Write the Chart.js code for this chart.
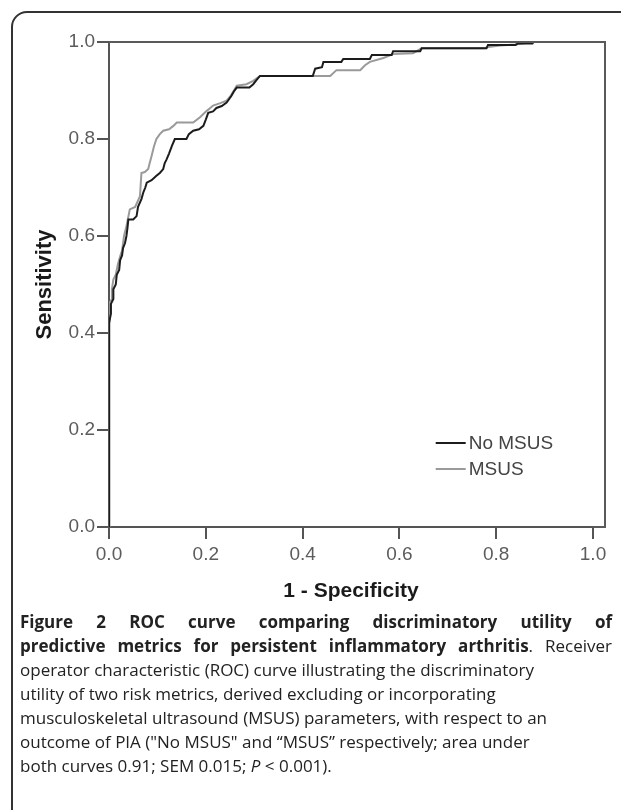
<!DOCTYPE html>
<html>
<head>
<meta charset="utf-8">
<script src="https://cdn.jsdelivr.net/npm/chart.js@4.4.1/dist/chart.umd.min.js"></script>
<style>
  html, body { margin: 0; padding: 0; background: #fff; overflow: hidden; }
  body { width: 621px; height: 810px; position: relative; }
  #frame {
    position: absolute; left: 11px; top: 11px; width: 700px; height: 900px;
    border: 2px solid #333; border-radius: 16px; box-sizing: border-box;
  }
  #chartWrap { position: absolute; left: 0; top: 0; width: 621px; height: 612px; }
  #caption {
    position: absolute; left: 20px; top: 610px; width: 592px;
    font-family: "Open Sans", sans-serif;
    font-size: 17px; line-height: 24px; color: #222;
  }
  #caption .j { text-align: justify; text-align-last: justify; }
  #caption b { font-weight: bold; }
</style>
</head>
<body>
<div id="frame"></div>
<div id="chartWrap"><canvas id="rocChart"></canvas></div>
<div id="caption">
  <div class="j"><b>Figure 2 ROC curve comparing discriminatory utility of</b></div>
  <div class="j"><b>predictive metrics for persistent inflammatory arthritis</b>. Receiver</div>
  <div>operator characteristic (ROC) curve illustrating the discriminatory</div>
  <div>utility of two risk metrics, derived excluding or incorporating</div>
  <div>musculoskeletal ultrasound (MSUS) parameters, with respect to an</div>
  <div>outcome of PIA ("No MSUS" and “MSUS” respectively; area under</div>
  <div>both curves 0.91; SEM 0.015; <i>P</i> &lt; 0.001).</div>
</div>
<script>
var xTicks = [0, 0.2, 0.4, 0.6, 0.8, 1.0];
var yTicks = [0, 0.2, 0.4, 0.6, 0.8, 1.0];

var seriesNames = ['No MSUS', 'MSUS'];

// No MSUS (black)
var noMsusFpr = [0, 0, 0.004, 0.004, 0.009, 0.009, 0.014, 0.016, 0.021, 0.023, 0.027, 0.029, 0.033, 0.036, 0.038, 0.040,
    0.050, 0.057, 0.060, 0.067, 0.071, 0.075, 0.078, 0.088, 0.098, 0.105, 0.112, 0.115, 0.119, 0.124, 0.130, 0.136,
    0.160, 0.165, 0.174, 0.186, 0.195, 0.200, 0.205, 0.215, 0.222, 0.233, 0.243, 0.248, 0.253, 0.258, 0.264, 0.290,
    0.298, 0.305, 0.312, 0.421, 0.426, 0.440, 0.443, 0.480, 0.484, 0.539, 0.543, 0.584, 0.587, 0.643, 0.646, 0.780,
    0.783, 0.840, 0.845, 0.875, 0.877, 1.0];
var noMsusTpr = [0, 0.42, 0.44, 0.46, 0.47, 0.49, 0.50, 0.52, 0.53, 0.55, 0.56, 0.575, 0.585, 0.60, 0.615, 0.634,
    0.634, 0.641, 0.66, 0.676, 0.69, 0.70, 0.71, 0.715, 0.724, 0.73, 0.738, 0.75, 0.758, 0.77, 0.786, 0.80,
    0.80, 0.81, 0.817, 0.82, 0.827, 0.84, 0.854, 0.857, 0.864, 0.868, 0.875, 0.882, 0.889, 0.898, 0.906, 0.906,
    0.913, 0.922, 0.93, 0.93, 0.945, 0.948, 0.959, 0.959, 0.965, 0.965, 0.973, 0.973, 0.981, 0.981, 0.987, 0.987,
    0.994, 0.994, 0.997, 0.997, 1.0, 1.0];

// MSUS (grey)
var msusFpr = [0, 0, 0.002, 0.006, 0.006, 0.009, 0.014, 0.018, 0.023, 0.027, 0.031, 0.036, 0.040, 0.043, 0.054, 0.064,
    0.067, 0.074, 0.081, 0.084, 0.088, 0.093, 0.098, 0.105, 0.112, 0.124, 0.133, 0.140, 0.174, 0.188, 0.202, 0.208,
    0.215, 0.230, 0.243, 0.252, 0.258, 0.264, 0.284, 0.298, 0.312, 0.457, 0.470, 0.519, 0.529, 0.539, 0.567, 0.587,
    0.628, 0.646, 0.777, 0.780, 0.808, 0.840, 0.877, 1.0];
var msusTpr = [0, 0.44, 0.463, 0.47, 0.49, 0.51, 0.52, 0.54, 0.558, 0.57, 0.60, 0.62, 0.64, 0.655, 0.66, 0.682,
    0.73, 0.732, 0.738, 0.75, 0.765, 0.785, 0.80, 0.81, 0.817, 0.82, 0.827, 0.834, 0.834, 0.845, 0.858, 0.863,
    0.869, 0.874, 0.879, 0.89, 0.90, 0.91, 0.913, 0.92, 0.93, 0.93, 0.942, 0.942, 0.952, 0.959, 0.967, 0.975,
    0.977, 0.987, 0.987, 0.989, 0.993, 0.995, 1.0, 1.0];

var lineColors = ['#1c1c1c', '#9a9a9a'];

function toPoints(xs, ys) {
    var pts = [];
    for (let i = 0; i < xs.length; i++) {
        pts.push({x: xs[i], y: ys[i]});
    }
    return pts;
}

// top and right edges of the box, right edge sits a bit past 1.0
var boxPlugin = {
    id: 'boxPlugin',
    afterDraw: function (chart) {
        var a = chart.chartArea;
        var ctx = chart.ctx;
        ctx.save();
        ctx.strokeStyle = '#5a5a5a';
        ctx.lineWidth = 2;
        ctx.beginPath();
        ctx.moveTo(a.left, a.top);
        ctx.lineTo(a.right + 12, a.top);
        ctx.lineTo(a.right + 12, a.bottom);
        ctx.lineTo(a.right, a.bottom);
        ctx.stroke();
        ctx.restore();
    }
};

var legendPlugin = {
    id: 'legendPlugin',
    afterDraw: function (chart) {
        var ctx = chart.ctx;
        var a = chart.chartArea;
        ctx.save();
        ctx.font = '19px "Liberation Sans", Arial, sans-serif';
        ctx.textBaseline = 'middle';
        chart.data.datasets.forEach(function (ds, i) {
            var y = a.bottom - 84 + i * 26;
            var x = a.left + 0.675 * (a.right - a.left);
            ctx.strokeStyle = ds.borderColor;
            ctx.lineWidth = 2;
            ctx.beginPath();
            ctx.moveTo(x, y);
            ctx.lineTo(x + 30, y);
            ctx.stroke();
            ctx.fillStyle = '#444';
            ctx.fillText(ds.label, x + 33, y + 1);
        });
        ctx.restore();
    }
};

function drawChart() {
    var ctx = document.getElementById('rocChart');
    var myChart = new Chart(ctx, {
        type: 'scatter',
        data: {
            datasets: [{
                label: seriesNames[0],
                data: toPoints(noMsusFpr, noMsusTpr),
                borderColor: lineColors[0],
                borderWidth: 2,
                showLine: true,
                pointRadius: 0,
                tension: 0
            }, {
                label: seriesNames[1],
                data: toPoints(msusFpr, msusTpr),
                borderColor: lineColors[1],
                borderWidth: 2,
                showLine: true,
                pointRadius: 0,
                tension: 0
            }]
        },
        options: {
            responsive: true,
            maintainAspectRatio: false,
            animation: false,
            layout: { padding: { top: 42, right: 28, left: 0, bottom: 0 } },
            plugins: {
                legend: { display: false },
                tooltip: { enabled: false }
            },
            scales: {
                x: {
                    type: 'linear',
                    min: 0,
                    max: 1,
                    afterBuildTicks: function (scale) {
                        scale.ticks = xTicks.map(function (v) { return {value: v}; });
                    },
                    afterFit: function (scale) { scale.height = 85; },
                    ticks: {
                        color: '#5c5c5c',
                        font: { family: '"Liberation Sans", Arial, sans-serif', size: 19 },
                        padding: 4,
                        maxRotation: 0,
                        callback: function (v) { return v.toFixed(1); }
                    },
                    grid: { drawOnChartArea: false, drawTicks: true, tickLength: 12, color: '#555', lineWidth: 2 },
                    border: { display: true, color: '#555', width: 2 },
                    title: {
                        display: true,
                        text: '1 - Specificity',
                        color: '#1a1a1a',
                        font: { family: '"Liberation Sans", Arial, sans-serif', size: 21, weight: 'bold' },
                        padding: { top: 0, bottom: 8 }
                    }
                },
                y: {
                    type: 'linear',
                    min: 0,
                    max: 1,
                    afterBuildTicks: function (scale) {
                        scale.ticks = yTicks.map(function (v) { return {value: v}; });
                    },
                    afterFit: function (scale) { scale.width = 109; },
                    ticks: {
                        color: '#5c5c5c',
                        font: { family: '"Liberation Sans", Arial, sans-serif', size: 19 },
                        padding: 2,
                        callback: function (v) { return v.toFixed(1); }
                    },
                    grid: { drawOnChartArea: false, drawTicks: true, tickLength: 12, color: '#555', lineWidth: 2 },
                    border: { display: true, color: '#555', width: 2 },
                    title: {
                        display: true,
                        text: 'Sensitivity',
                        color: '#1a1a1a',
                        font: { family: '"Liberation Sans", Arial, sans-serif', size: 22, weight: 'bold' },
                        padding: { top: 32, bottom: 0 }
                    }
                }
            }
        },
        plugins: [boxPlugin, legendPlugin]
    });
}

drawChart();
</script>
</body>
</html>
